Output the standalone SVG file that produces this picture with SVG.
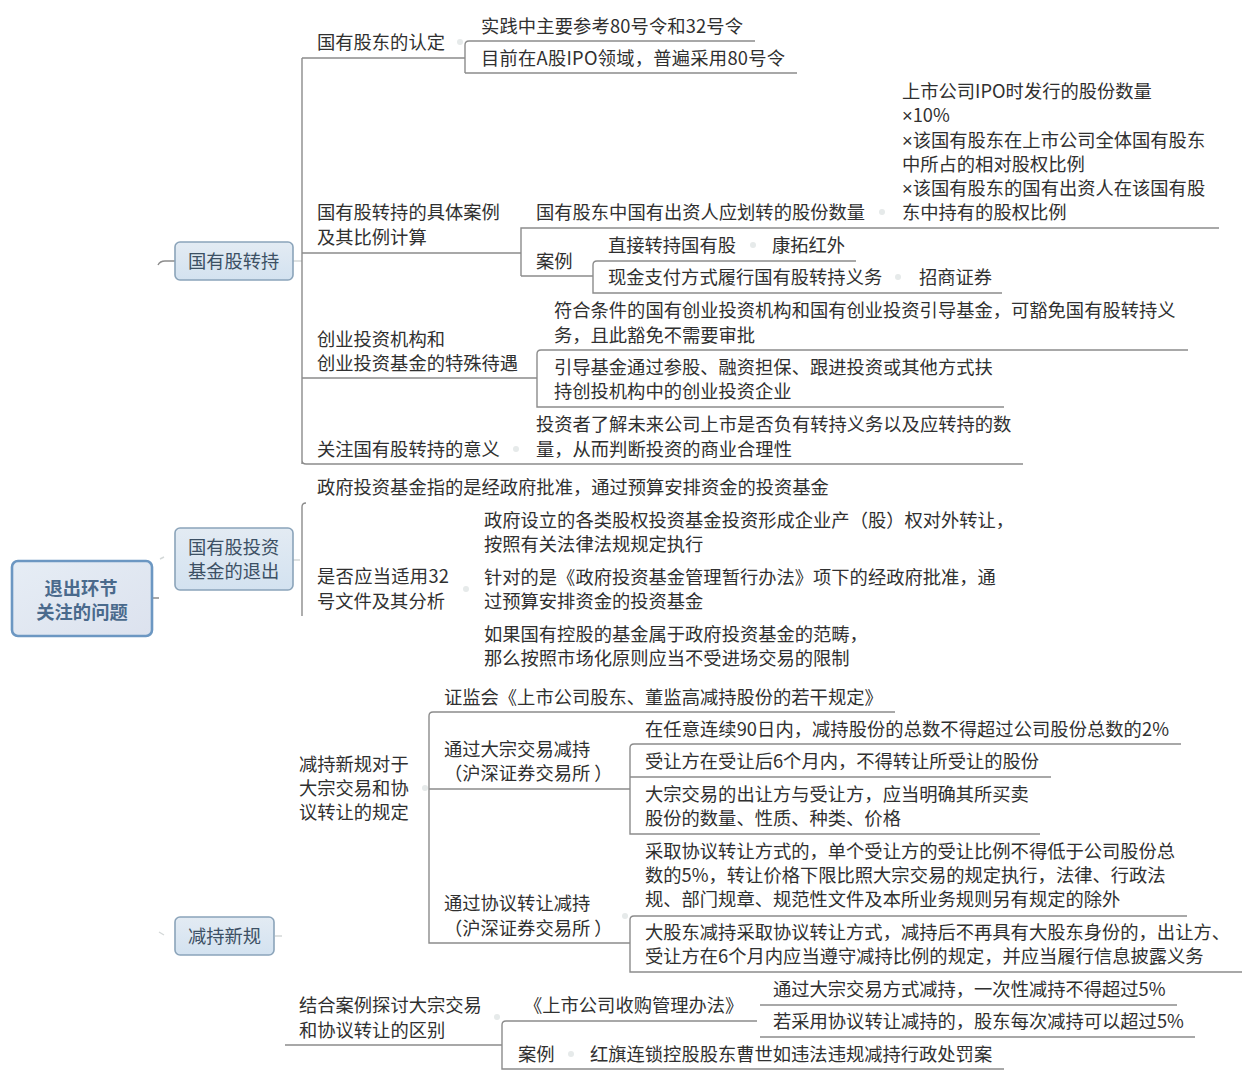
<svg xmlns="http://www.w3.org/2000/svg" width="1253" height="1080" viewBox="0 0 1253 1080">
<defs>
<linearGradient id="g1" x1="0" y1="0" x2="0" y2="1"><stop offset="0" stop-color="#e3ebf3"/><stop offset="1" stop-color="#d3e2f0"/></linearGradient>
<linearGradient id="g0" x1="0" y1="0" x2="1" y2="1"><stop offset="0" stop-color="#e6edf5"/><stop offset="1" stop-color="#dce2ee"/></linearGradient>
</defs>
<style>
text{font-family:"Noto Sans CJK SC","Liberation Sans",sans-serif;font-size:18.3px;fill:#303030}
.n1{fill:#3c5064}
.r{fill:#4a6a8c;font-weight:700;text-anchor:middle}
.b1{fill:url(#g1);stroke:#8ba4ba;stroke-width:1.6}
.b0{fill:url(#g0);stroke:#6c97c2;stroke-width:2.6}
.c{fill:none;stroke:#8c8c8c;stroke-width:1.4}
.f{fill:none;stroke:#d4d8d8;stroke-width:1.4}
.d{fill:#e6eaea}
.p{font-family:"Noto Sans CJK TC",sans-serif}
.x{font-family:"Liberation Sans",sans-serif}
</style>
<rect width="1253" height="1080" fill="#fff"/>
<g id="connectors">
<path class="c" d="M153 598H159M175 261H165Q160 261 158 265"/>
<path class="f" d="M293 261H302M293 560H300M160 559L164 557M159 932L164 935M275 936H282"/>
<path class="c" d="M302 464V58M465 58H302M302 253H521M302 378H537M1023 464H306Q302 464 302 460"/>
<path class="c" d="M755 41H469Q465 41 465 45V73M465 73H797"/>
<path class="c" d="M1219 228H521V276M521 276H593M856 261H597Q593 261 593 265V293H1002"/>
<path class="c" d="M1188 350H541Q537 350 537 354V407H1004"/>
<path class="c" d="M302 616V507Q302 503 306 503"/>
<path class="c" d="M895 712H433Q429 712 429 716V943H630M429 789H630"/>
<path class="c" d="M1181 744H634Q630 744 630 748V834H1040M630 777H1051"/>
<path class="c" d="M1187 916H634Q630 916 630 920V972H1242"/>
<path class="c" d="M285 1045H502M757 1021H506Q502 1021 502 1025V1069H1004"/>
<path class="c" d="M760 1005H1177M760 1037H1195"/>
<g class="d"><circle cx="460" cy="42" r="3"/><circle cx="882" cy="212" r="3"/><circle cx="753" cy="245" r="3"/><circle cx="898" cy="277" r="3"/><circle cx="516" cy="449" r="3"/><circle cx="466" cy="589" r="3"/><circle cx="425" cy="788" r="3"/><circle cx="625" cy="916" r="3"/><circle cx="497" cy="1017" r="3"/><circle cx="571" cy="1054" r="3"/></g>
</g>
<g id="root"><rect class="b0" x="12" y="561" width="140" height="75" rx="6"/><text class="r" x="81" y="595">退出环节</text><text class="r" x="82" y="619">关注的问题</text></g>
<g id="n-transfer"><rect class="b1" x="175" y="242" width="118" height="38" rx="5"/><text class="n1" x="188" y="268">国有股转持</text></g>
<g id="n-fund"><rect class="b1" x="175" y="528" width="118" height="62" rx="5"/><text class="n1" x="188" y="554">国有股投资</text><text class="n1" x="188" y="578">基金的退出</text></g>
<g id="n-reduce"><rect class="b1" x="175" y="917" width="99" height="38" rx="5"/><text class="n1" x="188" y="943">减持新规</text></g>
<g id="t1"><text x="317" y="49">国有股东的认定</text></g>
<g id="t2"><text x="481" y="33" textLength="262">实践中主要参考80号令和32号令</text></g>
<g id="t3"><text x="481" y="65" textLength="304">目前在A股IPO领域，普遍采用80号令</text></g>
<g id="t4"><text x="902" y="98">上市公司IPO时发行的股份数量</text><text x="902" y="122"><tspan class="x">×</tspan>10%</text><text x="902" y="147"><tspan class="x">×</tspan>该国有股东在上市公司全体国有股东</text><text x="902" y="171">中所占的相对股权比例</text><text x="902" y="195"><tspan class="x">×</tspan>该国有股东的国有出资人在该国有股</text><text x="902" y="219">东中持有的股权比例</text></g>
<g id="t5"><text x="317" y="219">国有股转持的具体案例</text><text x="317" y="244">及其比例计算</text></g>
<g id="t6"><text x="536" y="219">国有股东中国有出资人应划转的股份数量</text></g>
<g id="t7"><text x="536" y="268">案例</text></g>
<g id="t8"><text x="608" y="252">直接转持国有股</text></g>
<g id="t9"><text x="772" y="252">康拓红外</text></g>
<g id="t10"><text x="608" y="284">现金支付方式履行国有股转持义务</text></g>
<g id="t11"><text x="919" y="284">招商证券</text></g>
<g id="t12"><text x="317" y="346">创业投资机构和</text><text x="317" y="370">创业投资基金的特殊待遇</text></g>
<g id="t13"><text x="554" y="317">符合条件的国有创业投资机构和国有创业投资引导基金，可豁免国有股转持义</text><text x="554" y="342">务，且此豁免不需要审批</text></g>
<g id="t14"><text x="554" y="374">引导基金通过参股、融资担保、跟进投资或其他方式扶</text><text x="554" y="398">持创投机构中的创业投资企业</text></g>
<g id="t15"><text x="317" y="456">关注国有股转持的意义</text></g>
<g id="t16"><text x="536" y="431">投资者了解未来公司上市是否负有转持义务以及应转持的数</text><text x="536" y="456">量，从而判断投资的商业合理性</text></g>
<g id="t17"><text x="317" y="494">政府投资基金指的是经政府批准，通过预算安排资金的投资基金</text></g>
<g id="t18"><text x="317" y="583" textLength="132">是否应当适用32</text><text x="317" y="608">号文件及其分析</text></g>
<g id="t19"><text x="484" y="527">政府设立的各类股权投资基金投资形成企业产<tspan class="p">（</tspan>股<tspan class="p">）</tspan>权对外转让，</text><text x="484" y="551">按照有关法律法规规定执行</text></g>
<g id="t20"><text x="484" y="584">针对的是《政府投资基金管理暂行办法》项下的经政府批准，通</text><text x="484" y="608">过预算安排资金的投资基金</text></g>
<g id="t21"><text x="484" y="641">如果国有控股的基金属于政府投资基金的范畴，</text><text x="484" y="665">那么按照市场化原则应当不受进场交易的限制</text></g>
<g id="t22"><text x="299" y="771">减持新规对于</text><text x="299" y="795">大宗交易和协</text><text x="299" y="819">议转让的规定</text></g>
<g id="t23"><text x="444" y="704">证监会《上市公司股东、董监高减持股份的若干规定》</text></g>
<g id="t24"><text x="444" y="756">通过大宗交易减持</text><text x="444" y="780"><tspan class="p">（</tspan>沪深证券交易所<tspan class="p" dx="4">）</tspan></text></g>
<g id="t25"><text x="645" y="736" textLength="524">在任意连续90日内，减持股份的总数不得超过公司股份总数的2%</text></g>
<g id="t26"><text x="645" y="768">受让方在受让后6个月内，不得转让所受让的股份</text></g>
<g id="t27"><text x="645" y="801">大宗交易的出让方与受让方，应当明确其所买卖</text><text x="645" y="825">股份的数量、性质、种类、价格</text></g>
<g id="t28"><text x="444" y="910">通过协议转让减持</text><text x="444" y="935"><tspan class="p">（</tspan>沪深证券交易所<tspan class="p" dx="4">）</tspan></text></g>
<g id="t29"><text x="645" y="858">采取协议转让方式的，单个受让方的受让比例不得低于公司股份总</text><text x="645" y="882">数的5%，转让价格下限比照大宗交易的规定执行，法律、行政法</text><text x="645" y="906">规、部门规章、规范性文件及本所业务规则另有规定的除外</text></g>
<g id="t30"><text x="645" y="939">大股东减持采取协议转让方式，减持后不再具有大股东身份的，出让方、</text><text x="645" y="963">受让方在6个月内应当遵守减持比例的规定，并应当履行信息披露义务</text></g>
<g id="t31"><text x="299" y="1012">结合案例探讨大宗交易</text><text x="299" y="1037">和协议转让的区别</text></g>
<g id="t32"><text x="524" y="1012">《上市公司收购管理办法》</text></g>
<g id="t33"><text x="773" y="996">通过大宗交易方式减持，一次性减持不得超过5%</text></g>
<g id="t34"><text x="773" y="1028">若采用协议转让减持的，股东每次减持可以超过5%</text></g>
<g id="t35"><text x="518" y="1061">案例</text></g>
<g id="t36"><text x="590" y="1061">红旗连锁控股股东曹世如违法违规减持行政处罚案</text></g>
</svg>
